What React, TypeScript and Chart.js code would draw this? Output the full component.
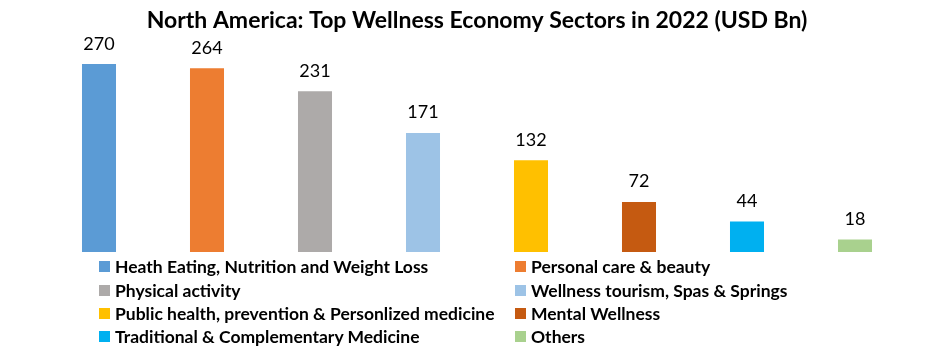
import React, { useEffect, useRef } from "react";
import { Chart, registerables } from "chart.js";

Chart.register(...registerables);

const chartTitle = "North America: Top Wellness Economy Sectors in 2022 (USD Bn)";
const sectors = [
  "Heath Eating, Nutrition and Weight Loss",
  "Personal care & beauty",
  "Physical activity",
  "Wellness tourism, Spas & Springs",
  "Public health, prevention & Personlized medicine",
  "Mental Wellness",
  "Traditional & Complementary Medicine",
  "Others",
];
const values = [270, 264, 231, 171, 132, 72, 44, 18];
const colors = [
  "#5B9BD5",
  "#ED7D31",
  "#ADAAA9",
  "#9DC3E6",
  "#FFC000",
  "#C55A11",
  "#00B0F0",
  "#A9D18E",
];

const valueLabels = {
  id: "valueLabels",
  afterDatasetsDraw(chart: any) {
    const ctx = chart.ctx;
    const meta = chart.getDatasetMeta(0);
    ctx.save();
    ctx.font = "18px Lato";
    ctx.fillStyle = "#000";
    ctx.textAlign = "center";
    ctx.textBaseline = "alphabetic";
    meta.data.forEach((bar: any, i: number) => {
      ctx.fillText(String(values[i]), bar.x, bar.y - 14.5);
    });
    ctx.restore();
  },
};

export default function App() {
  const canvasRef = useRef<HTMLCanvasElement | null>(null);

  useEffect(() => {
    document.body.style.margin = "0";
    document.body.style.overflow = "hidden";
    const canvas = canvasRef.current;
    if (!canvas) return;
    const chart = new Chart(canvas, {
      type: "bar",
      data: {
        labels: sectors,
        datasets: [
          {
            data: values,
            backgroundColor: colors,
            borderWidth: 0,
            categoryPercentage: 1,
            barPercentage: 0.315,
          },
        ],
      },
      options: {
        animation: false,
        responsive: false,
        devicePixelRatio: 1,
        layout: { padding: { left: 45, right: 30, top: 1, bottom: 102 } },
        scales: {
          x: { display: false, grid: { display: false } },
          y: { display: false, min: 0, max: 300, grid: { display: false } },
        },
        plugins: {
          legend: { display: false },
          tooltip: { enabled: false },
          title: {
            display: true,
            text: chartTitle,
            color: "#000",
            font: { family: "Lato", size: 23, weight: "bold" },
            padding: { top: 6, bottom: 8.6 },
          },
        },
      },
      plugins: [valueLabels],
    });
    return () => chart.destroy();
  }, []);

  return (
    <div style={{ position: "relative", width: 939, height: 354, background: "#fff" }}>
      <canvas ref={canvasRef} width={939} height={354} style={{ display: "block" }} />
      {sectors.map((s, i) => {
        const row = Math.floor(i / 2);
        const col = i % 2;
        const cy = 266.7 + row * 23.3;
        const left = col === 0 ? 99 : 515;
        return (
          <div
            key={s}
            style={{
              position: "absolute",
              left,
              top: cy - 12,
              height: 24,
              display: "flex",
              alignItems: "center",
              whiteSpace: "nowrap",
              fontFamily: "Lato",
              fontWeight: 700,
              fontSize: 17.5,
              color: "#000",
            }}
          >
            <span
              style={{
                display: "inline-block",
                width: 11,
                height: 11,
                background: colors[i],
                marginRight: 5,
              }}
            />
            <span>{s}</span>
          </div>
        );
      })}
    </div>
  );
}
